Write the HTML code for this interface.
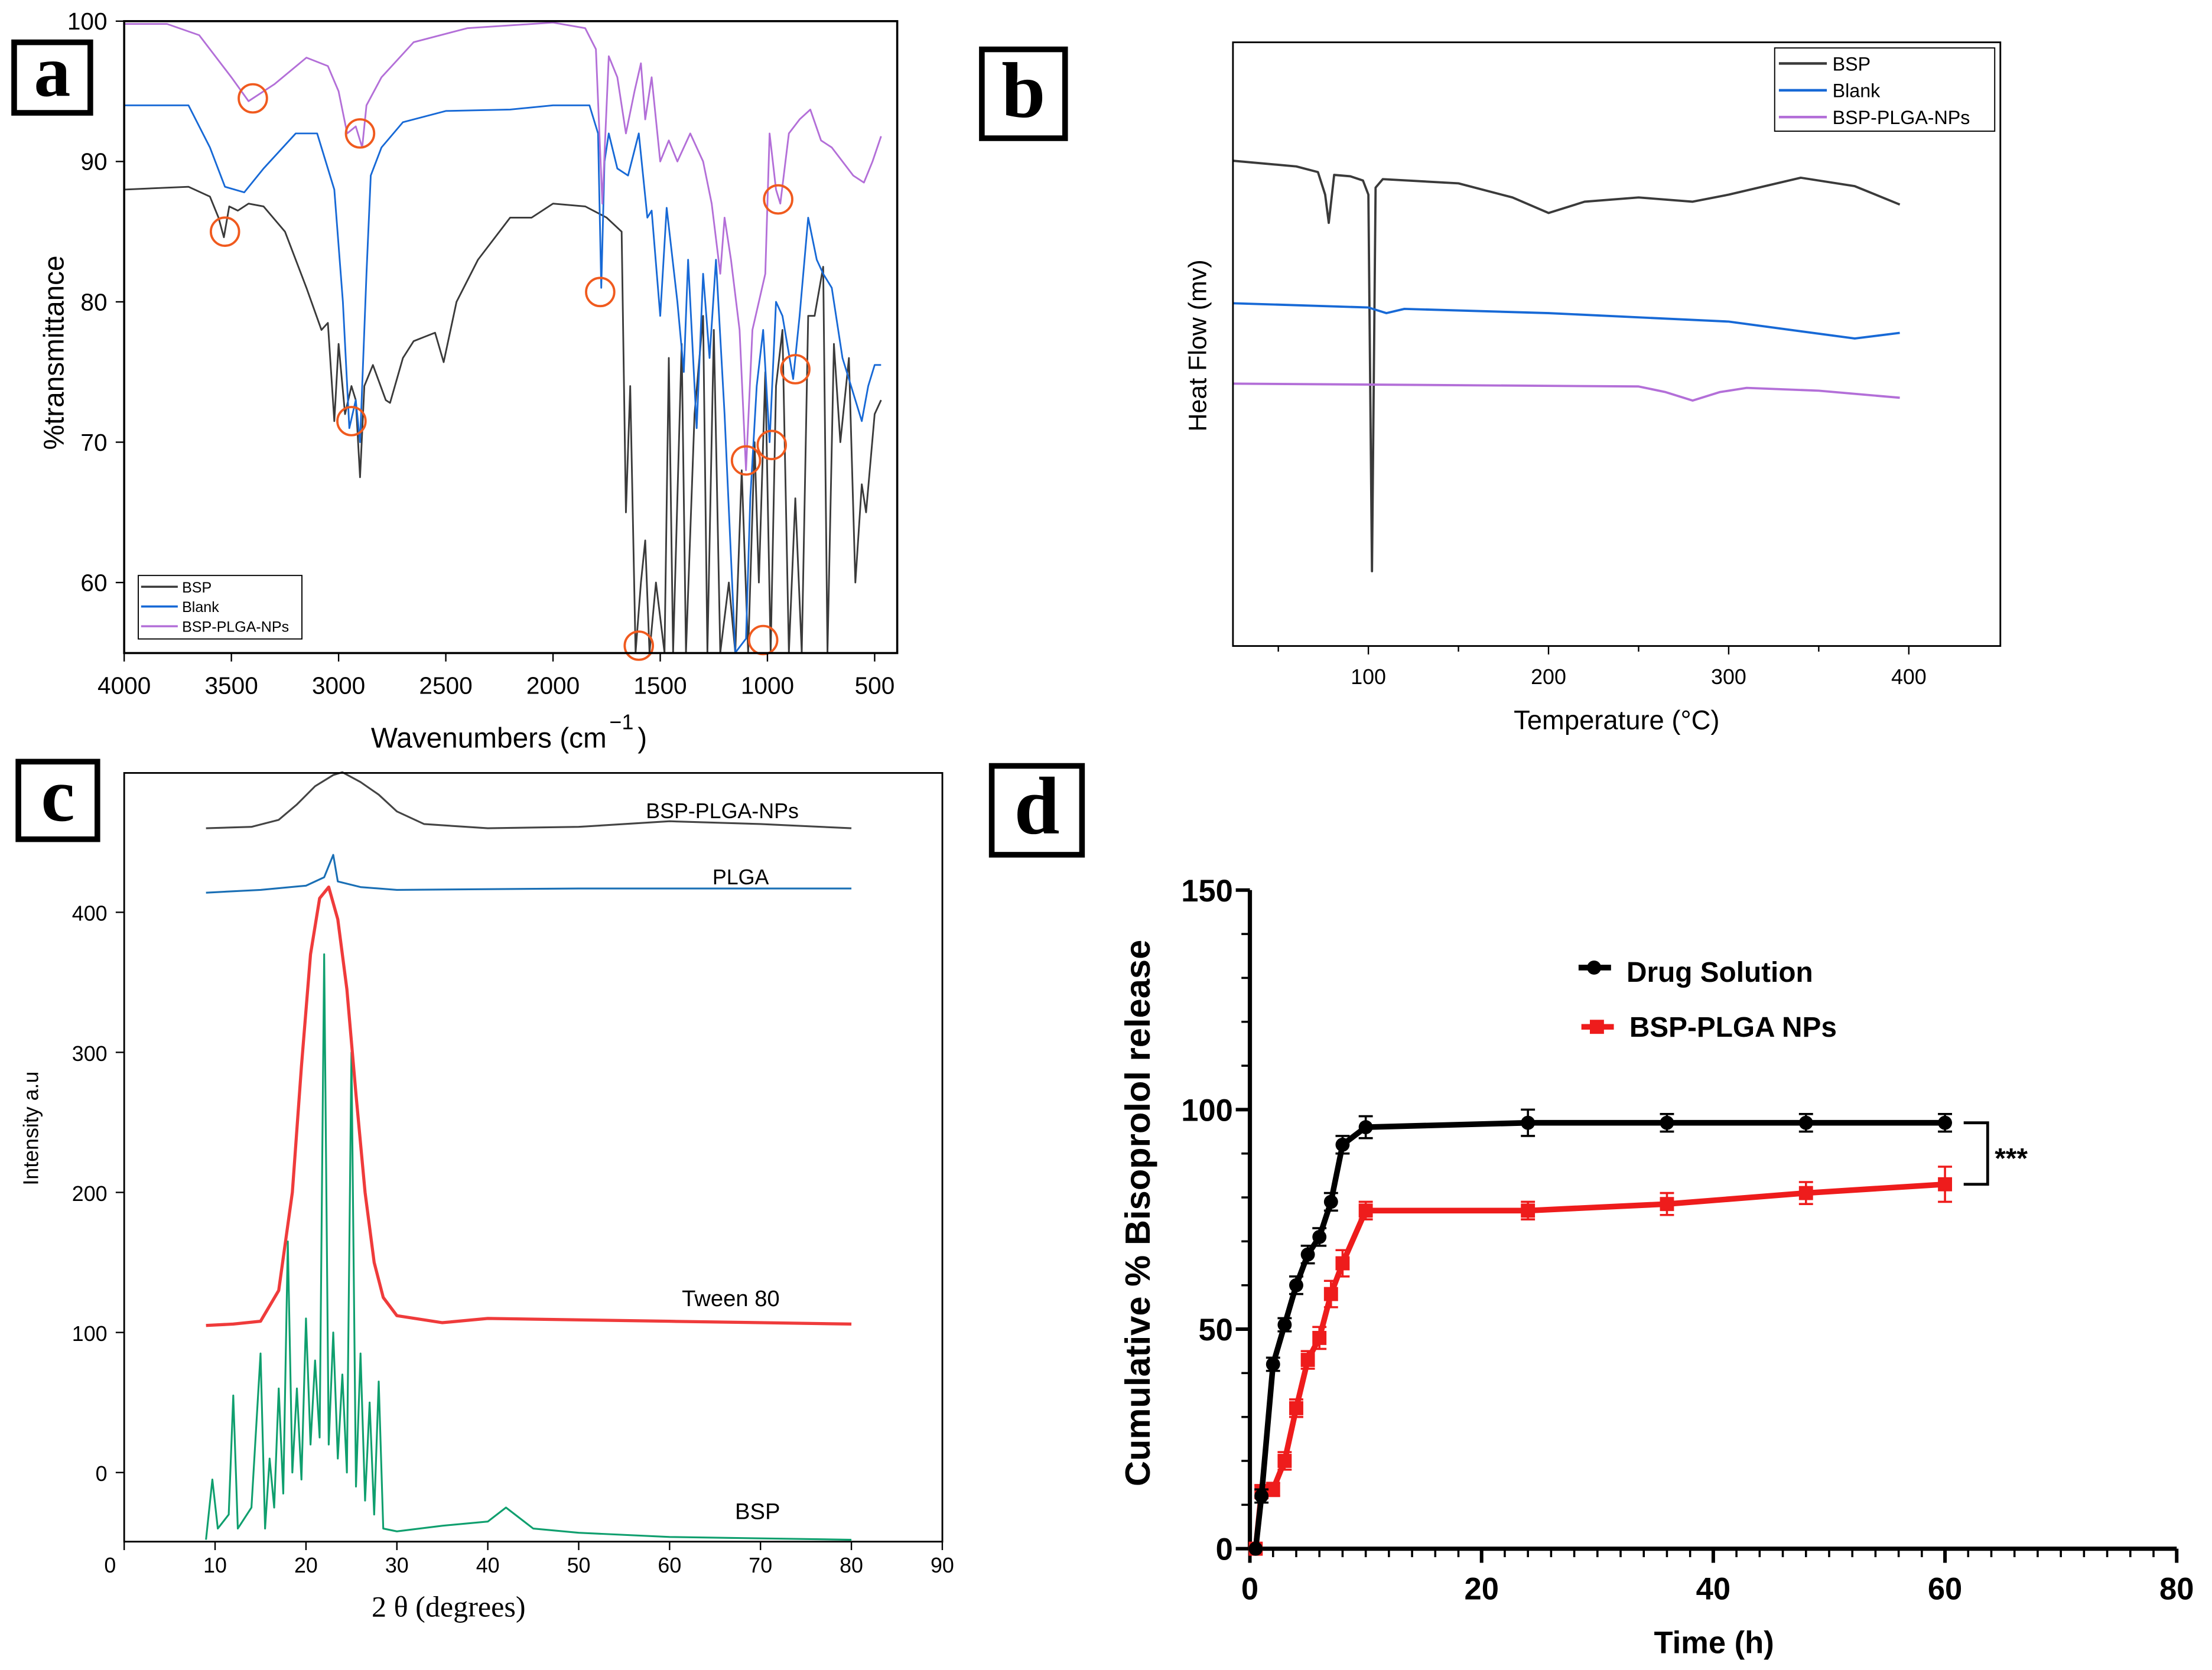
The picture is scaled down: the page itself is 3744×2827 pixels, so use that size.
<!DOCTYPE html>
<html><head><meta charset="utf-8"><style>
html,body{margin:0;padding:0;background:#fff}
svg{display:block}
text{font-family:"Liberation Sans",sans-serif}
text.serif{font-family:"Liberation Serif",serif}
</style></head><body>
<svg id="root" width="3744" height="2827" viewBox="0 0 1568 1184" xmlns="http://www.w3.org/2000/svg">
<rect width="1568" height="1184" fill="#fff"/>
<g id="pa"></g>
<g id="pb"></g>
<g id="pc"></g>
<g id="pd"></g>
</svg>
<script>
// ---------- Panel a data (wavenumber, %T)
const ftirBSP=[[4000,88],[3700,88.2],[3600,87.5],[3560,86],[3535,84.6],[3510,86.8],[3470,86.5],[3420,87],[3350,86.8],[3250,85],[3150,81],[3080,78],[3050,78.5],[3020,71.5],[3000,77],[2970,72],[2940,74],[2920,73],[2900,67.5],[2880,74],[2840,75.5],[2780,73],[2760,72.8],[2700,76],[2650,77.2],[2600,77.5],[2550,77.8],[2510,75.7],[2450,80],[2350,83],[2200,86],[2100,86],[2000,87],[1850,86.8],[1750,86],[1680,85],[1660,65],[1640,74],[1615,55],[1590,60],[1570,63],[1550,55],[1520,60],[1480,55],[1460,76],[1440,55],[1400,77],[1380,55],[1340,72],[1300,79],[1280,55],[1250,78],[1220,55],[1180,60],[1150,55],[1120,68],[1090,55],[1060,70],[1040,60],[1010,75],[985,55],[960,74],[930,78],[900,55],[870,66],[840,55],[810,79],[780,79],[740,82.5],[720,55],[690,77],[660,70],[620,76],[590,60],[560,67],[540,65],[500,72],[470,73]];
const ftirBlank=[[4000,94],[3700,94],[3600,91],[3530,88.2],[3440,87.8],[3350,89.5],[3200,92],[3100,92],[3020,88],[2980,80],[2950,71],[2920,73],[2900,70],[2870,82],[2850,89],[2800,91],[2700,92.8],[2500,93.6],[2200,93.7],[2000,94],[1830,94],[1790,92],[1775,81],[1760,90],[1740,92],[1700,89.5],[1650,89],[1600,92],[1560,86],[1540,86.5],[1500,79],[1470,86.7],[1420,80],[1390,75],[1370,83],[1330,71],[1300,82],[1270,76],[1240,83],[1200,72],[1150,55],[1100,56],[1080,66],[1050,74],[1020,78],[990,70],[960,80],[930,79],[880,74.5],[850,79],[810,86],[770,83],[740,82],[700,81],[650,76],[590,73],[560,71.5],[530,74],[500,75.5],[470,75.5]];
const ftirNP=[[4000,99.8],[3800,99.8],[3650,99],[3500,96],[3420,94.3],[3300,95.5],[3150,97.4],[3050,96.8],[3000,95],[2960,92],[2920,92.5],[2890,91],[2870,94],[2800,96],[2650,98.5],[2400,99.5],[2200,99.7],[2000,99.9],[1850,99.5],[1800,98],[1770,87],[1740,97.5],[1700,96],[1660,92],[1620,95],[1590,97],[1570,93],[1540,96],[1500,90],[1460,91.5],[1420,90],[1360,92],[1300,90],[1260,87],[1220,82],[1200,86],[1170,83],[1130,78],[1100,68],[1070,78],[1040,80],[1010,82],[990,92],[960,88],[940,87],[900,92],[850,93],[800,93.7],[750,91.5],[700,91],[650,90],[600,89],[550,88.5],[510,90],[470,91.8]];
const ftirMarks=[[3400,94.5],[2900,92],[3530,85],[2940,71.5],[1780,80.7],[1600,55.5],[1100,68.7],[1020,55.9],[980,69.8],[950,87.3],[870,75.2]];
const ftirXTicks=[4000,3500,3000,2500,2000,1500,1000,500];
const ftirYTicks=[60,70,80,90,100];
// ---------- Panel b data (°C, arbitrary heat flow)
const dscBSP=[[25,344],[60,340],[72,336],[76,320],[78,300],[81,334],[90,333],[97,330],[100,320],[102,53],[104,325],[108,331],[150,328],[180,318],[200,307],[220,315],[250,318],[280,315],[300,320],[340,332],[370,326],[395,313]];
const dscBlank=[[25,243],[100,240],[110,236],[120,239],[200,236],[300,230],[370,218],[395,222]];
const dscNP=[[25,186],[250,184],[265,180],[280,174],[295,180],[310,183],[350,181],[395,176]];
const dscXTicks=[100,200,300,400];
// ---------- Panel c data (2θ, intensity)
const xrdNP=[[9,460],[14,461],[17,466],[19,477],[21,490],[23,498],[24,500],[26,493],[28,484],[30,472],[33,463],[40,460],[50,461],[60,465],[70,463],[80,460]];
const xrdPLGA=[[9,414],[15,416],[20,419],[22,425],[23,441],[23.5,422],[26,418],[30,416],[50,417],[80,417]];
const xrdTween=[[9,105],[12,106],[15,108],[17,130],[18.5,200],[19.5,290],[20.5,370],[21.5,410],[22.5,418],[23.5,395],[24.5,345],[25.5,270],[26.5,200],[27.5,150],[28.5,125],[30,112],[35,107],[40,110],[60,108],[80,106]];
const xrdBSP=[[9,-48],[9.7,-5],[10.3,-40],[11.5,-30],[12,55],[12.5,-40],[14,-25],[15,85],[15.5,-40],[16,10],[16.5,-25],[17,60],[17.5,-15],[18,165],[18.5,0],[19,60],[19.5,-5],[20,110],[20.5,20],[21,80],[21.5,25],[22,370],[22.5,20],[23,100],[23.5,10],[24,70],[24.5,0],[25,300],[25.5,-10],[26,85],[26.5,-20],[27,50],[27.5,-30],[28,65],[28.5,-40],[30,-42],[35,-38],[40,-35],[42,-25],[45,-40],[50,-43],[60,-46],[80,-48]];
const xrdXTicks=[0,10,20,30,40,50,60,70,80,90];
const xrdYTicks=[0,100,200,300,400];
// ---------- Panel d data
const relTime=[0.5,1,2,3,4,5,6,7,8,10,24,36,48,60];
const relDrug=[0,12,42,51,60,67,71,79,92,96,97,97,97,97];
const relNP=[0,13,13.5,20,32,43,48,58,65,77,77,78.5,81,83];
const relDrugErr=[0,1.5,1.5,1.5,2,2,2,2,2,2.5,3,2,2,2];
const relNPErr=[0,1.5,1.5,2,2,2,2.5,3,3,2,2,2.5,2.5,4];
const relXTicks=[0,20,40,60,80];
const relYTicks=[0,50,100,150];

const NS='http://www.w3.org/2000/svg';
function mk(parent,tag,attrs,txt){const e=document.createElementNS(NS,tag);for(const k in attrs)e.setAttribute(k,attrs[k]);if(txt!==undefined)e.textContent=txt;parent.appendChild(e);return e;}
function poly(parent,pts,fx,fy,color,w,name){const e=mk(parent,'polyline',{points:pts.map(p=>fx(p[0]).toFixed(2)+','+fy(p[1]).toFixed(2)).join(' '),fill:'none',stroke:color,'stroke-width':w,'stroke-linejoin':'round'});

return e;}
function txt(parent,x,y,s,size,opts,name){const o=Object.assign({x:x,y:y,'font-size':size,fill:'#000'},opts||{});const e=mk(parent,'text',o,s);

return e;}
function label(parent,x,y,w,h,ch,fs,name){const g=mk(parent,'g',{});


mk(g,'rect',{x:x,y:y,width:w,height:h,fill:'#fff',stroke:'#000','stroke-width':4});
mk(g,'text',{x:x+w/2,y:y+h*0.76,'font-size':fs,'font-weight':'bold','text-anchor':'middle','class':'serif'},ch);}

// ===== Panel a
(function(){const g=document.getElementById('pa');
const x0=88,x1=636,y0=15,y1=463;
const fx=v=>88+(4000-v)*(532/3500), fy=v=>15+(100-v)*9.95;
const cp=mk(g,'clipPath',{id:'ca'});mk(cp,'rect',{x:x0,y:y0,width:x1-x0,height:y1-y0});
const lg=mk(g,'g',{'clip-path':'url(#ca)'});
poly(lg,ftirBSP,fx,fy,'#3a3a3a',1.2,'bsp-line');
poly(lg,ftirBlank,fx,fy,'#1769d6',1.2,'blank-line');
poly(lg,ftirNP,fx,fy,'#b36fd8',1.2,'bsp-plga-nps-line');
ftirMarks.forEach(m=>{const c=mk(g,'ellipse',{cx:fx(m[0]),cy:fy(m[1]),rx:10,ry:10,fill:'none',stroke:'#f05a1e','stroke-width':1.6});

});
mk(g,'rect',{x:x0,y:y0,width:x1-x0,height:y1-y0,fill:'none',stroke:'#000','stroke-width':1.5});
ftirXTicks.forEach(v=>{mk(g,'line',{x1:fx(v),x2:fx(v),y1:y1,y2:y1+6,stroke:'#000'});txt(g,fx(v),y1+29,String(v),17,{'text-anchor':'middle'},'x-tick-label');});
ftirYTicks.forEach(v=>{mk(g,'line',{x1:x0,x2:x0-6,y1:fy(v),y2:fy(v),stroke:'#000'});txt(g,x0-12,fy(v)+6,String(v),17,{'text-anchor':'end'},'y-tick-label');});
txt(g,430,530,'Wavenumbers (cm',20,{'text-anchor':'end'},'x-axis-title');
txt(g,432,517,'−1',15,{},'x-axis-title-exp');txt(g,452,530,')',20,{},'x-axis-title-close');
txt(g,45,250,'%transmittance',20,{'text-anchor':'middle',transform:'rotate(-90 45 250)'},'y-axis-title');
const L=mk(g,'g',{});
mk(L,'rect',{x:98,y:408,width:116,height:45,fill:'#fff',stroke:'#000','stroke-width':0.8});
[['BSP','#3a3a3a'],['Blank','#1769d6'],['BSP-PLGA-NPs','#b36fd8']].forEach((s,i)=>{const yy=416+i*14;mk(L,'line',{x1:100,x2:126,y1:yy,y2:yy,stroke:s[1],'stroke-width':1.5});txt(L,129,yy+4,s[0],10.5,{},'legend-entry');});
label(g,10,30,54,50,'a',52,'panel-label-a');
})();
// ===== Panel b
(function(){const g=document.getElementById('pb');
const x0=874,x1=1418,y0=30,y1=458;
const fx=v=>970+(v-100)*1.277, fy=v=>458-v;
poly(g,dscBSP,fx,fy,'#3a3a3a',1.6,'bsp-line');
poly(g,dscBlank,fx,fy,'#1769d6',1.6,'blank-line');
poly(g,dscNP,fx,fy,'#b36fd8',1.6,'bsp-plga-nps-line');
mk(g,'rect',{x:x0,y:y0,width:x1-x0,height:y1-y0,fill:'none',stroke:'#000','stroke-width':1.2});
dscXTicks.forEach(v=>{mk(g,'line',{x1:fx(v),x2:fx(v),y1:y1,y2:y1+6,stroke:'#000'});txt(g,fx(v),y1+27,String(v),15,{'text-anchor':'middle'},'x-tick-label');});
[50,150,250,350].forEach(v=>mk(g,'line',{x1:fx(v),x2:fx(v),y1:y1,y2:y1+4,stroke:'#000'}));
txt(g,1146,517,'Temperature (°C)',19,{'text-anchor':'middle'},'x-axis-title');
txt(g,855,245,'Heat Flow (mv)',18,{'text-anchor':'middle',transform:'rotate(-90 855 245)'},'y-axis-title');
const L=mk(g,'g',{});
mk(L,'rect',{x:1258,y:34,width:156,height:59,fill:'#fff',stroke:'#000','stroke-width':0.8});
[['BSP','#3a3a3a'],['Blank','#1769d6'],['BSP-PLGA-NPs','#b36fd8']].forEach((s,i)=>{const yy=45+i*19;mk(L,'line',{x1:1261,x2:1295,y1:yy,y2:yy,stroke:s[1],'stroke-width':1.8});txt(L,1299,yy+5,s[0],13.5,{},'legend-entry');});
label(g,696,35,59,63,'b',56,'panel-label-b');
})();
// ===== Panel c
(function(){const g=document.getElementById('pc');
const x0=88,x1=668,y0=548,y1=1093;
const fx=v=>88+v*6.444, fy=v=>1044-v*0.993;
poly(g,xrdBSP,fx,fy,'#0f9f6e',1.3,'bsp-line');
poly(g,xrdTween,fx,fy,'#ef3b3b',2.2,'tween-80-line');
poly(g,xrdPLGA,fx,fy,'#1a6fb5',1.3,'plga-line');
poly(g,xrdNP,fx,fy,'#444',1.3,'bsp-plga-nps-line');
mk(g,'rect',{x:x0,y:y0,width:x1-x0,height:y1-y0,fill:'none',stroke:'#000','stroke-width':1.2});
xrdXTicks.forEach(v=>{mk(g,'line',{x1:fx(v),x2:fx(v),y1:y1,y2:y1+6,stroke:'#000'});txt(g,fx(v)-(v===0?10:0),y1+22,String(v),15,{'text-anchor':'middle'},'x-tick-label');});
xrdYTicks.forEach(v=>{mk(g,'line',{x1:x0,x2:x0-6,y1:fy(v),y2:fy(v),stroke:'#000'});txt(g,x0-12,fy(v)+6,String(v),15,{'text-anchor':'end'},'y-tick-label');});
txt(g,318,1146,'2 θ (degrees)',21,{'text-anchor':'middle','class':'serif'},'x-axis-title');
txt(g,27,800,'Intensity a.u',15,{'text-anchor':'middle',transform:'rotate(-90 27 800)'},'y-axis-title');
txt(g,512,580,'BSP-PLGA-NPs',15,{'text-anchor':'middle'},'series-label-nps');
txt(g,525,627,'PLGA',15,{'text-anchor':'middle'},'series-label-plga');
txt(g,518,926,'Tween 80',16,{'text-anchor':'middle'},'series-label-tween');
txt(g,537,1077,'BSP',16,{'text-anchor':'middle'},'series-label-bsp');
label(g,13,540,56,55,'c',54,'panel-label-c');
})();
// ===== Panel d
(function(){const g=document.getElementById('pd');
const fx=v=>886+v*8.2125, fy=v=>1098-v*3.113;
const ax=mk(g,'g',{});
mk(ax,'line',{x1:886,x2:886,y1:fy(150),y2:1098,stroke:'#000','stroke-width':3});
mk(ax,'line',{x1:886,x2:fx(80),y1:1098,y2:1098,stroke:'#000','stroke-width':3});
for(let t=0;t<=80;t+=2){const maj=relXTicks.indexOf(t)>=0;mk(ax,'line',{x1:fx(t),x2:fx(t),y1:1098,y2:1098+(maj?10:6),stroke:'#000','stroke-width':maj?2.5:1.5});}
for(let v=0;v<=150;v+=10){const maj=relYTicks.indexOf(v)>=0;mk(ax,'line',{x1:886,x2:886-(maj?10:6),y1:fy(v),y2:fy(v),stroke:'#000','stroke-width':maj?2.5:1.5});}
relXTicks.forEach(v=>txt(g,fx(v),1134,String(v),22,{'text-anchor':'middle','font-weight':'bold'},'x-tick-label'));
relYTicks.forEach(v=>txt(g,874,fy(v)+8,String(v),22,{'text-anchor':'end','font-weight':'bold'},'y-tick-label'));
txt(g,1215,1172,'Time (h)',22,{'text-anchor':'middle','font-weight':'bold'},'x-axis-title');
txt(g,815,860,'Cumulative % Bisoprolol release',25,{'text-anchor':'middle','font-weight':'bold',transform:'rotate(-90 815 860)'},'y-axis-title');
function series(vals,errs,color,marker,name){const s=mk(g,'g',{});


mk(s,'polyline',{points:relTime.map((t,i)=>fx(t)+','+fy(vals[i])).join(' '),fill:'none',stroke:color,'stroke-width':4});
relTime.forEach((t,i)=>{const x=fx(t),y=fy(vals[i]),e=errs[i]*3.113;
mk(s,'line',{x1:x,x2:x,y1:y-e,y2:y+e,stroke:color,'stroke-width':1.5});
mk(s,'line',{x1:x-5,x2:x+5,y1:y-e,y2:y-e,stroke:color,'stroke-width':1.5});
mk(s,'line',{x1:x-5,x2:x+5,y1:y+e,y2:y+e,stroke:color,'stroke-width':1.5});
let m;if(marker==='c')m=mk(s,'circle',{cx:x,cy:y,r:5,fill:color});else m=mk(s,'rect',{x:x-5,y:y-5,width:10,height:10,fill:color});

});}
series(relNP,relNPErr,'#ee1c1c','s','bsp-plga-nps-series');
series(relDrug,relDrugErr,'#000','c','drug-solution-series');
const br=mk(g,'path',{d:`M1392 ${fy(97)} H1409 V${fy(83)} H1392`,fill:'none',stroke:'#000','stroke-width':2});

txt(g,1414,828,'***',20,{'font-weight':'bold'},'significance-stars');
const L=mk(g,'g',{});
mk(L,'line',{x1:1119,x2:1142,y1:686,y2:686,stroke:'#000','stroke-width':4});mk(L,'circle',{cx:1130,cy:686,r:5,fill:'#000'});
txt(L,1153,696,'Drug Solution',20,{'font-weight':'bold'},'legend-entry');
mk(L,'line',{x1:1121,x2:1144,y1:728,y2:728,stroke:'#ee1c1c','stroke-width':4});mk(L,'rect',{x:1127,y:723,width:10,height:10,fill:'#ee1c1c'});
txt(L,1155,735,'BSP-PLGA NPs',20,{'font-weight':'bold'},'legend-entry');
label(g,703,543,64,63,'d',58,'panel-label-d');
})();
</script>
</body></html>
